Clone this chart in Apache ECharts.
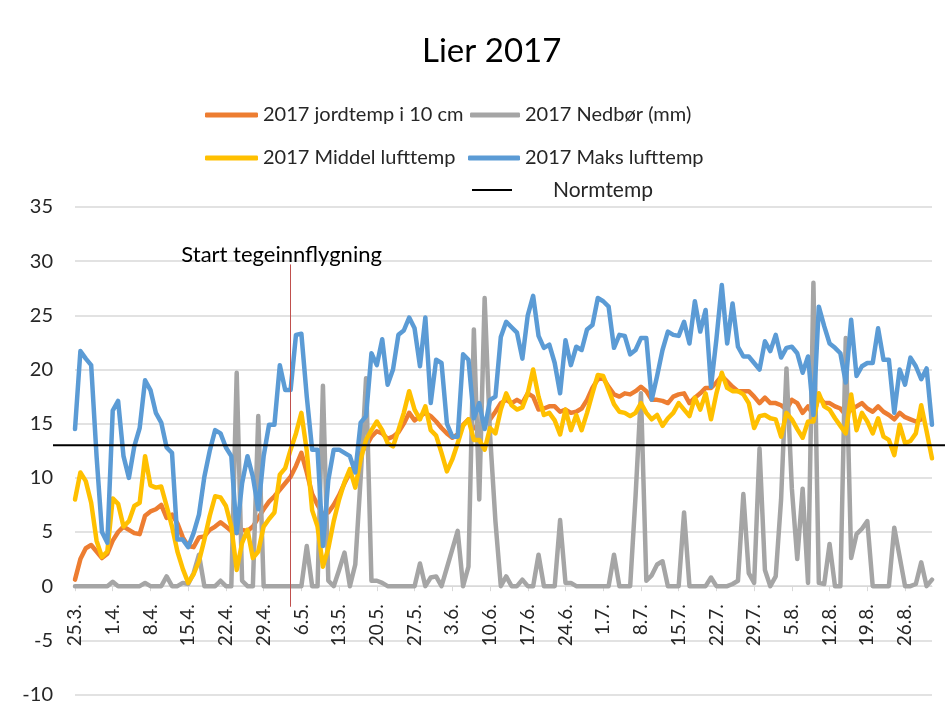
<!DOCTYPE html>
<html><head><meta charset="utf-8">
<script src="https://cdn.jsdelivr.net/npm/echarts@6/dist/echarts.min.js"></script>
<style>html,body{margin:0;padding:0;background:#fff}#c{width:951px;height:719px}</style>
</head><body><div id="c"></div><script>
const categories = ['25.3.','26.3.','27.3.','28.3.','29.3.','30.3.','31.3.',
'1.4.','2.4.','3.4.','4.4.','5.4.','6.4.','7.4.','8.4.','9.4.','10.4.','11.4.','12.4.','13.4.','14.4.','15.4.','16.4.','17.4.','18.4.','19.4.','20.4.','21.4.','22.4.','23.4.','24.4.','25.4.','26.4.','27.4.','28.4.','29.4.','30.4.',
'1.5.','2.5.','3.5.','4.5.','5.5.','6.5.','7.5.','8.5.','9.5.','10.5.','11.5.','12.5.','13.5.','14.5.','15.5.','16.5.','17.5.','18.5.','19.5.','20.5.','21.5.','22.5.','23.5.','24.5.','25.5.','26.5.','27.5.','28.5.','29.5.','30.5.','31.5.',
'1.6.','2.6.','3.6.','4.6.','5.6.','6.6.','7.6.','8.6.','9.6.','10.6.','11.6.','12.6.','13.6.','14.6.','15.6.','16.6.','17.6.','18.6.','19.6.','20.6.','21.6.','22.6.','23.6.','24.6.','25.6.','26.6.','27.6.','28.6.','29.6.','30.6.',
'1.7.','2.7.','3.7.','4.7.','5.7.','6.7.','7.7.','8.7.','9.7.','10.7.','11.7.','12.7.','13.7.','14.7.','15.7.','16.7.','17.7.','18.7.','19.7.','20.7.','21.7.','22.7.','23.7.','24.7.','25.7.','26.7.','27.7.','28.7.','29.7.','30.7.','31.7.',
'1.8.','2.8.','3.8.','4.8.','5.8.','6.8.','7.8.','8.8.','9.8.','10.8.','11.8.','12.8.','13.8.','14.8.','15.8.','16.8.','17.8.','18.8.','19.8.','20.8.','21.8.','22.8.','23.8.','24.8.','25.8.','26.8.','27.8.','28.8.','29.8.','30.8.','31.8.'];

const jordtemp = [0.6,2.5,3.5,3.8,3.2,2.6,3.0,4.2,5.0,5.5,5.2,4.9,4.8,6.5,6.9,7.1,7.5,6.3,6.6,5.8,
4.5,3.7,3.6,4.5,4.6,5.2,5.5,5.9,5.5,5.1,4.9,5.2,5.1,5.5,6.3,7.1,7.8,8.3,8.9,9.5,
10.1,11.1,12.3,10.5,8.5,7.5,6.6,6.8,7.5,8.4,9.5,10.5,11.2,12.3,12.9,13.8,14.3,14.1,13.6,13.8,
14.2,15.0,16.0,15.3,15.7,16.0,15.7,15.2,14.6,14.1,13.7,14.0,14.9,15.4,14.6,14.5,14.9,15.4,16.1,16.9,
17.2,16.9,17.2,16.9,17.8,17.5,16.3,16.4,16.6,16.6,16.1,16.3,16.0,16.1,16.4,17.2,18.3,19.1,19.2,18.4,
17.7,17.5,17.8,17.7,18.0,18.4,18.0,17.2,17.2,17.1,16.9,17.5,17.7,17.8,16.9,17.4,17.8,18.3,18.3,18.8,
19.4,18.9,18.4,18.0,18.0,18.0,17.5,16.9,17.4,16.9,16.9,16.7,16.3,17.2,16.9,16.0,16.6,15.8,17.5,16.9,
16.9,16.6,16.4,15.8,16.3,16.6,16.9,16.4,16.1,16.6,16.1,15.8,15.4,16.0,15.6,15.4,15.2,15.4,null,null];

const nedbor = [0,0,0,0,0,0,0,0.4,0,0,0,0,0,0.3,0,0,0,0.9,0,0,
0.3,0.2,1.2,2.9,0,0,0,0.5,0,0,19.7,0.5,0,0,15.7,0,0,0,0,0,
0,0,0,3.7,0,0,18.5,0.5,0,1.5,3.1,0,2.0,10.0,19.2,0.5,0.5,0.3,0,0,
0,0,0,0,2.1,0,0.8,0.9,0,1.7,3.4,5.1,0,1.8,23.7,8.0,26.6,14.0,6.0,0,
0.9,0,0,0.6,0,0,2.9,0,0,0,6.1,0.3,0.3,0,0,0,0,0,0,0,
2.9,0,0,0,8.3,17.8,0.5,1.0,2.0,2.3,0,0,0,6.8,0,0,0,0,0.8,0,
0,0,0.2,0.5,8.5,1.2,0.3,12.7,1.5,0,0.9,8.0,20.1,9.0,2.5,9.0,0.3,28.0,0.3,0.2,
3.9,0,0,22.9,2.6,4.8,5.3,6.0,0,0,0,0,5.4,2.7,0,0,0.2,2.2,0,0.6];

const middel = [8.0,10.5,9.7,7.7,4.2,2.7,3.2,8.1,7.6,5.5,6.0,7.4,7.7,12.0,9.3,9.1,9.2,7.4,5.5,3.2,
1.6,0.3,1.1,2.3,4.3,6.5,8.3,8.2,7.4,5.5,1.5,4.0,5.2,2.6,3.2,5.5,6.2,6.8,10.3,10.9,
12.6,14.1,16.0,12.5,7.0,5.5,1.8,3.5,6.0,8.0,9.6,10.8,9.1,11.7,13.5,14.4,15.2,14.4,13.2,12.9,
14.4,16.0,18.0,16.3,15.4,16.6,14.4,13.9,12.3,10.6,11.7,13.2,14.8,15.4,13.5,13.5,12.6,14.6,14.1,16.3,
17.8,16.7,16.3,16.5,17.8,20.0,17.5,15.8,16.0,15.3,14.0,16.3,14.4,15.8,14.4,16.0,17.8,19.5,19.4,18.1,
16.8,16.1,16.0,15.7,16.0,16.9,16.0,15.4,15.8,14.8,15.5,16.0,16.9,16.3,15.7,17.4,16.3,17.8,15.4,17.8,
19.7,18.3,18.0,18.0,17.7,16.9,14.6,15.7,15.8,15.5,15.4,13.8,16.0,15.4,14.5,13.7,15.2,15.2,17.8,16.6,
16.3,15.5,14.8,14.1,17.7,14.4,16.0,15.2,14.1,15.5,13.8,13.5,12.1,14.9,13.2,13.4,14.1,16.7,14.3,11.8];

const maks = [14.5,21.7,21.0,20.4,12.0,5.0,4.0,16.2,17.1,12.0,10.0,12.9,14.6,19.0,18.1,16.0,15.1,12.8,12.3,4.3,
4.3,3.6,4.9,6.6,10.1,12.5,14.4,14.1,12.8,12.0,4.9,9.5,12.0,10.1,7.1,12.0,14.9,14.9,20.4,18.1,
18.1,23.2,23.3,17.5,12.6,12.6,3.7,9.8,12.6,12.6,12.3,12.0,10.5,15.1,15.7,21.5,20.4,22.8,18.6,20.0,
23.2,23.6,24.8,23.8,20.3,24.8,16.9,20.9,20.6,15.0,13.8,13.8,21.4,20.9,15.5,16.9,14.5,17.2,17.5,23.0,
24.4,23.9,23.4,21.0,25.0,26.8,23.1,22.0,22.3,20.6,17.8,22.7,20.4,22.1,21.8,23.7,24.1,26.6,26.3,25.8,
22.0,23.2,23.1,21.4,21.8,22.9,22.9,17.2,19.4,21.8,23.5,23.2,23.1,24.4,22.4,26.3,23.5,25.5,18.4,22.8,
27.8,22.4,26.1,22.1,21.2,21.2,20.6,20.0,22.6,21.7,23.2,21.1,22.0,22.1,21.5,19.7,21.2,15.8,25.8,24.0,
22.4,22.0,21.5,18.8,24.6,19.4,20.3,20.6,20.6,23.8,20.9,20.9,16.0,20.0,18.6,21.1,20.3,19.1,20.1,14.9];

const normtemp = 13;
const yMin = -10, yMax = 35, yStep = 5;
const startFlight = '4.5.';
const startFlightRange = [-1.9, 29.7];

const FONT = 'Lato';
const names = ['2017 jordtemp i 10 cm','2017 Nedbør (mm)','2017 Middel lufttemp','2017 Maks lufttemp','Normtemp'];
const colors = ['#ED7D31','#A5A5A5','#FFC000','#5B9BD5','#000000'];

const GRID_TOP = 207, GRID_BOTTOM = 24.5, CHART_H = 719;
const gridH = CHART_H - GRID_TOP - GRID_BOTTOM;
const zeroOffset = -gridH * (0 - yMin) / (yMax - yMin);

function lineSeries(i, data){
  return {name:names[i], type:'line', data:data, symbol:'none', xAxisIndex:0, yAxisIndex:0,
    itemStyle:{color:colors[i]},
    lineStyle:{color:colors[i], width:4.5, cap:'round', join:'round'}};
}
function legendItem(name, left, top, w, h, extra){
  return Object.assign({data:[name], left:left, top:top, padding:0, itemWidth:w, itemHeight:h,
    icon:'roundRect', textStyle:{fontFamily:FONT, fontSize:20, color:'#262626', lineHeight:24}}, extra||{});
}

const chart = echarts.init(document.getElementById('c'), null, {renderer:'canvas'});
const maksSeries = lineSeries(3, maks);
maksSeries.markLine = {silent:true, symbol:'none', animation:false,
  lineStyle:{color:'#C0504D', width:1, type:'solid'},
  label:{show:true, position:'end', formatter:'Start tegeinnflygning', color:'#000',
    fontFamily:FONT, fontSize:22, offset:[-9,6]},
  data:[[{coord:[startFlight, startFlightRange[0]]},{coord:[startFlight, startFlightRange[1]]}]]};

chart.setOption({
  animation:false,
  backgroundColor:'#fff',
  title:{text:'Lier 2017', left:417, top:30, textStyle:{fontFamily:FONT, fontSize:33, fontWeight:'normal', color:'#000'}},
  legend:[
    legendItem(names[0], 205, 103, 53, 5),
    legendItem(names[1], 470, 103, 50, 5),
    legendItem(names[2], 205, 146, 53, 5),
    legendItem(names[3], 468, 146, 52, 5),
    legendItem(names[4], 472, 178, 40, 2, {icon:'rect', textStyle:{fontFamily:FONT, fontSize:21, color:'#262626', lineHeight:24, padding:[0,0,0,36]}})
  ],
  grid:[
    {left:75, right:19, top:GRID_TOP, bottom:GRID_BOTTOM, containLabel:false, outerBoundsMode:'none'},
    {left:53, right:6, top:GRID_TOP, bottom:GRID_BOTTOM, containLabel:false, outerBoundsMode:'none'}
  ],
  xAxis:[
    {type:'category', gridIndex:0, data:categories, boundaryGap:false, offset:zeroOffset,
     axisLine:{show:true, onZero:false, lineStyle:{color:'#D9D9D9', width:1}},
     axisTick:{show:true, interval:6, length:5, lineStyle:{color:'#D9D9D9'}},
     axisLabel:{interval:6, rotate:90, margin:18, fontFamily:FONT, fontSize:19, color:'#262626'},
     splitLine:{show:false}},
    {type:'value', gridIndex:1, min:0, max:1, show:false}
  ],
  yAxis:[
    {type:'value', gridIndex:0, min:yMin, max:yMax, interval:yStep,
     axisLine:{show:false}, axisTick:{show:false},
     axisLabel:{margin:22, fontFamily:FONT, fontSize:20, color:'#262626'},
     splitLine:{lineStyle:{color:'#D9D9D9', width:1.5}}},
    {type:'value', gridIndex:1, min:yMin, max:yMax, show:false}
  ],
  series:[
    lineSeries(0, jordtemp),
    lineSeries(1, nedbor),
    lineSeries(2, middel),
    maksSeries,
    {name:names[4], type:'line', xAxisIndex:1, yAxisIndex:1, symbol:'none',
     data:[[0, normtemp],[1, normtemp]], itemStyle:{color:'#000'}, lineStyle:{color:'#000', width:2}, z:5}
  ]
});
</script></body></html>
